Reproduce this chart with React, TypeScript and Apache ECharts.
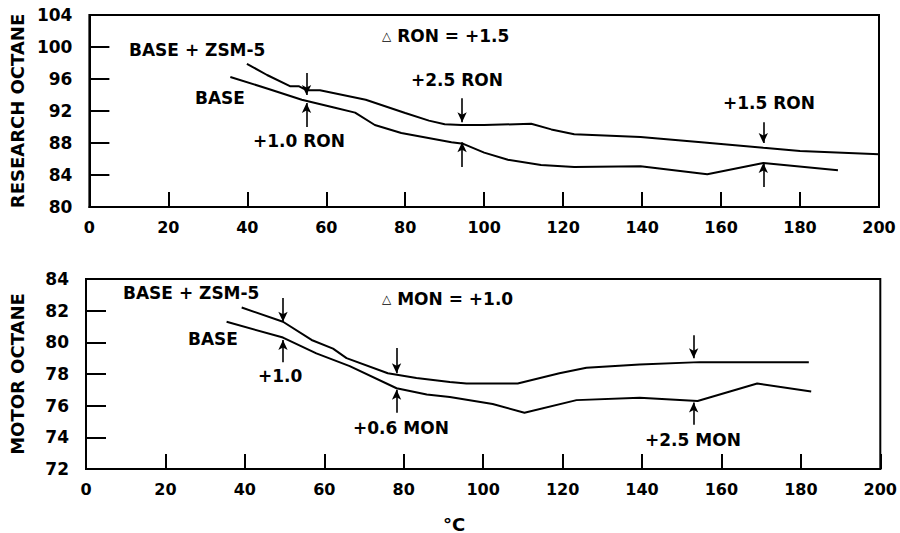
import React, { useEffect, useRef } from "react";
import * as echarts from "echarts";

// ---- data ----
const X_MIN = 0;
const X_MAX = 200;
const X_INTERVAL = 20;

const RON_ZSM_T = [39.9, 45, 50.8, 53, 55, 58.4, 70, 80, 86, 90, 94.2, 100, 111.9, 117, 122.8, 139.6, 155, 170.7, 180, 200];
const RON_ZSM_V = [97.9, 96.5, 95.1, 95.1, 94.6, 94.6, 93.4, 91.75, 90.8, 90.35, 90.25, 90.25, 90.4, 89.7, 89.1, 88.75, 88.1, 87.4, 87.0, 86.6];

const RON_BASE_T = [35.7, 45.4, 53.8, 62.2, 67.3, 72.3, 79, 91.7, 94.7, 100, 106, 114.4, 122.8, 139.6, 156.5, 170.7, 189.6];
const RON_BASE_V = [96.25, 94.75, 93.4, 92.4, 91.8, 90.25, 89.25, 88.1, 87.9, 86.8, 85.9, 85.25, 85.0, 85.1, 84.1, 85.5, 84.6];

const MON_ZSM_T = [39.2, 49.6, 56.8, 62.2, 65.6, 76, 83.2, 91.6, 95.8, 108.7, 119.2, 126, 139.4, 154.5, 182];
const MON_ZSM_V = [82.2, 81.3, 80.15, 79.6, 79.0, 78.05, 77.75, 77.5, 77.4, 77.4, 78.05, 78.4, 78.6, 78.75, 78.75];

const MON_BASE_T = [35.4, 49.6, 58, 66.4, 78.2, 85.8, 91.6, 102.4, 110.4, 123.5, 139.4, 154, 169, 182.6];
const MON_BASE_V = [81.3, 80.3, 79.3, 78.5, 77.1, 76.7, 76.55, 76.1, 75.55, 76.35, 76.5, 76.3, 77.4, 76.9];

// arrows: [x, yFrom, yTo]
const RON_ARROWS = [
  [55, 96.75, 94.0],
  [55, 90.0, 93.0],
  [94.4, 93.6, 90.6],
  [94.4, 85.0, 88.1],
  [170.7, 90.6, 88.0],
  [170.7, 82.5, 85.5],
];
const MON_ARROWS = [
  [49.6, 82.8, 81.3],
  [49.6, 78.75, 80.15],
  [78.2, 79.65, 78.05],
  [78.2, 75.55, 77.0],
  [153, 80.45, 79.0],
  [153, 74.8, 76.2],
];

const FONT = "DejaVu Sans";

const zip = (t: number[], v: number[]) => t.map((x, i) => [x, v[i]]);

function arrowMarkLine(arrows: number[][]) {
  return {
    silent: true,
    symbol: ["none", "arrow"],
    symbolSize: [7, 10],
    label: { show: false },
    lineStyle: { color: "#000", width: 1.6, type: "solid" },
    emphasis: { disabled: true },
    data: arrows.map((a) => [{ coord: [a[0], a[1]] }, { coord: [a[0], a[2]] }]),
  };
}

function xAxis(gridIndex: number) {
  return {
    type: "value",
    gridIndex,
    min: X_MIN,
    max: X_MAX,
    interval: X_INTERVAL,
    axisLine: { show: true, lineStyle: { color: "#000", width: 2 } },
    axisTick: { show: true, inside: true, length: 15, lineStyle: { color: "#000", width: 2 } },
    axisLabel: { color: "#000", fontSize: 16, fontWeight: "bold", fontFamily: FONT, margin: 12 },
    splitLine: { show: false },
  };
}

function yAxis(gridIndex: number, min: number, max: number, interval: number, name: string) {
  return {
    type: "value",
    gridIndex,
    min,
    max,
    interval,
    name,
    nameLocation: "middle",
    nameRotate: 90,
    nameGap: 60,
    nameTextStyle: { color: "#000", fontSize: 18, fontWeight: "bold", fontFamily: FONT },
    axisLine: { show: true, lineStyle: { color: "#000", width: 2 } },
    axisTick: { show: true, inside: true, length: 20, lineStyle: { color: "#000", width: 2 } },
    axisLabel: { color: "#000", fontSize: 17, fontWeight: "bold", fontFamily: FONT, margin: 17 },
    splitLine: { show: false },
  };
}

function txt(text: string, x: number, y: number, size = 17) {
  return {
    type: "text",
    x,
    y,
    silent: true,
    style: {
      text,
      fill: "#000",
      fontSize: size,
      fontWeight: "bold",
      fontFamily: FONT,
      align: "left",
      verticalAlign: "middle",
      rich: { t: { fontSize: 12, fontWeight: "normal", fontFamily: FONT, fill: "#000" } },
    },
  };
}

export default function App() {
  const ref = useRef<HTMLDivElement>(null);
  useEffect(() => {
    if (!ref.current) return;
    const chart = echarts.init(ref.current, undefined, { renderer: "svg" });
    const lineStyle = { color: "#000", width: 2 };
    chart.setOption({
      animation: false,
      backgroundColor: "#fff",
      grid: [
        { left: 87, top: 15, width: 792, height: 192, show: true, borderColor: "#000", borderWidth: 2, backgroundColor: "transparent" },
        { left: 86, top: 279, width: 795, height: 190, show: true, borderColor: "#000", borderWidth: 2, backgroundColor: "transparent" },
      ],
      xAxis: [xAxis(0), xAxis(1)],
      yAxis: [
        yAxis(0, 80, 104, 4, "RESEARCH OCTANE"),
        yAxis(1, 72, 84, 2, "MOTOR OCTANE"),
      ],
      series: [
        { type: "line", name: "BASE + ZSM-5 RON", xAxisIndex: 0, yAxisIndex: 0, data: zip(RON_ZSM_T, RON_ZSM_V), showSymbol: false, lineStyle, itemStyle: { color: "#000" } },
        { type: "line", name: "BASE RON", xAxisIndex: 0, yAxisIndex: 0, data: zip(RON_BASE_T, RON_BASE_V), showSymbol: false, lineStyle, itemStyle: { color: "#000" }, markLine: arrowMarkLine(RON_ARROWS) },
        { type: "line", name: "BASE + ZSM-5 MON", xAxisIndex: 1, yAxisIndex: 1, data: zip(MON_ZSM_T, MON_ZSM_V), showSymbol: false, lineStyle, itemStyle: { color: "#000" } },
        { type: "line", name: "BASE MON", xAxisIndex: 1, yAxisIndex: 1, data: zip(MON_BASE_T, MON_BASE_V), showSymbol: false, lineStyle, itemStyle: { color: "#000" }, markLine: arrowMarkLine(MON_ARROWS) },
      ],
      graphic: [
        txt("BASE + ZSM-5", 129, 50),
        txt("BASE", 195, 98),
        txt("+1.0 RON", 253, 141),
        txt("{t|△} RON = +1.5", 382, 36),
        txt("+2.5 RON", 411, 80),
        txt("+1.5 RON", 723, 103),
        txt("BASE + ZSM-5", 123, 293),
        txt("BASE", 188, 339),
        txt("+1.0", 258, 376),
        txt("{t|△} MON = +1.0", 382, 299),
        txt("+0.6 MON", 353, 428),
        txt("+2.5 MON", 645, 440),
        txt("°C", 443, 524, 18),
      ],
    });
    return () => chart.dispose();
  }, []);
  return (
    <div
      ref={ref}
      style={{ position: "absolute", left: 0, top: 0, width: 900, height: 533 }}
    />
  );
}
